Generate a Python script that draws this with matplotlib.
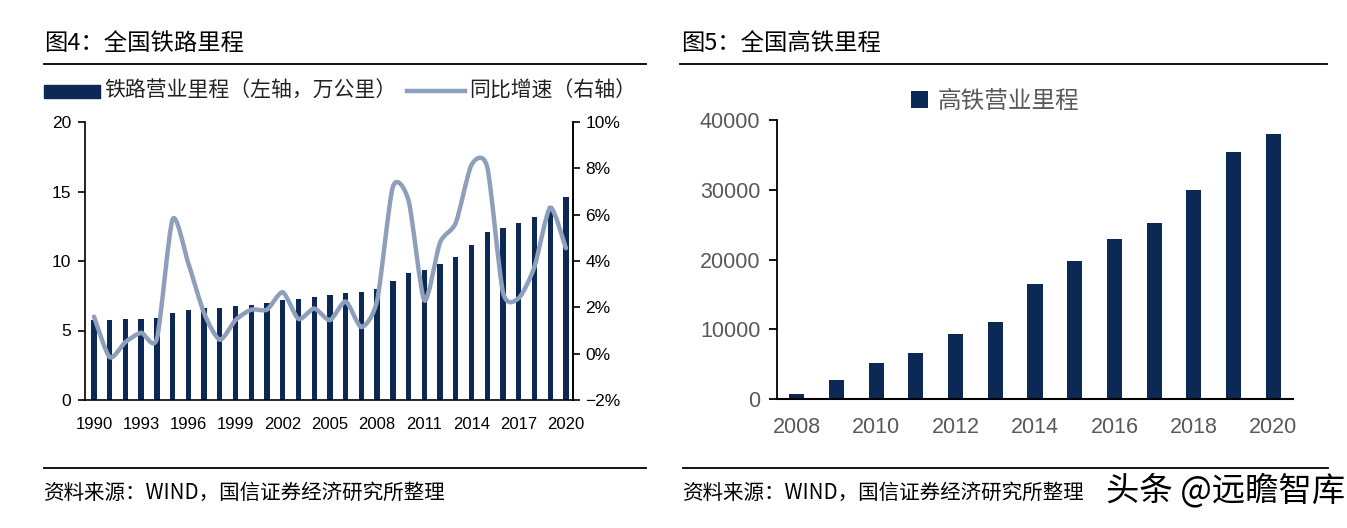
import numpy as np
import matplotlib
matplotlib.use("Agg")
import matplotlib.pyplot as plt
from matplotlib.path import Path
from matplotlib.patches import PathPatch, Rectangle
from matplotlib.lines import Line2D

plt.rcParams['font.family'] = ['Noto Sans CJK SC', 'DejaVu Sans']

# ---- data: figure 4 (national railway mileage) ----
rail_years = list(range(1990, 2021))
rail_km = [5.79, 5.78, 5.81, 5.86, 5.90, 6.24, 6.49, 6.60, 6.64, 6.74,
           6.87, 7.01, 7.19, 7.30, 7.44, 7.54, 7.71, 7.80, 7.97, 8.55,
           9.12, 9.32, 9.76, 10.31, 11.18, 12.10, 12.40, 12.70, 13.17, 13.99,
           14.63]
rail_yoy = [1.6, -0.15, 0.5, 0.9, 0.65, 5.8, 3.9, 1.75, 0.6, 1.45,
            1.9, 1.9, 2.65, 1.5, 1.95, 1.45, 2.25, 1.15, 2.3, 7.2,
            6.6, 2.3, 4.8, 5.65, 8.15, 8.05, 2.65, 2.4, 3.75, 6.3,
            4.55]
rail_xlabels = [str(y) if (y - 1990) % 3 == 0 else '' for y in rail_years]

# ---- data: figure 5 (high-speed rail mileage) ----
hsr_years = list(range(2008, 2021))
hsr_km = [672, 2699, 5133, 6601, 9356, 11028, 16456, 19838, 22980, 25164,
          29904, 35388, 37929]
hsr_xlabels = [str(y) if y % 2 == 0 else '' for y in hsr_years]

bar_color = '#0C2955'
line_color = '#8E9FBC'
grey_text = '#595959'

W, H = 1347, 528
fig = plt.figure(figsize=(W / 100, H / 100), dpi=100)


def fx(px):
    return px / W


def fy(py):
    return 1 - py / H


def smooth_path(xs, ys, k=0.12):
    # cubic bezier through every point, like Excel's smoothed line
    xs = np.asarray(xs, float)
    ys = np.asarray(ys, float)
    verts = [(xs[0], ys[0])]
    codes = [Path.MOVETO]
    n = len(xs)
    for i in range(n - 1):
        i0 = max(i - 1, 0)
        i3 = min(i + 2, n - 1)
        c1 = (xs[i] + (xs[i + 1] - xs[i0]) * k, ys[i] + (ys[i + 1] - ys[i0]) * k)
        c2 = (xs[i + 1] - (xs[i3] - xs[i]) * k, ys[i + 1] - (ys[i3] - ys[i]) * k)
        verts += [c1, c2, (xs[i + 1], ys[i + 1])]
        codes += [Path.CURVE4] * 3
    return Path(verts, codes)


# ================= left chart =================
fig.text(fx(44), fy(43), '图4：全国铁路里程', fontsize=16.8, va='center', ha='left', color='black')
fig.add_artist(Line2D([fx(44), fx(646)], [fy(64), fy(64)], color='black', lw=1.3))

ax = fig.add_axes([fx(85), fy(400), fx(573 - 85), (400 - 122) / H])
x = np.arange(len(rail_years))
ax.bar(x, rail_km, width=0.34, color=bar_color, zorder=2)
ax.set_xlim(-0.57, len(x) - 0.55)
ax.set_ylim(0, 20)
ax.set_yticks([0, 5, 10, 15, 20])
ax.set_xticks(x)
ax.set_xticklabels(rail_xlabels)
ax.spines['top'].set_visible(False)
for s in ['left', 'bottom', 'right']:
    ax.spines[s].set_linewidth(1.2)
ax.tick_params(axis='x', length=0, pad=12, labelsize=12)
ax.tick_params(axis='y', length=5, width=1.2, pad=5, labelsize=12.5)
for lab in ax.get_xticklabels() + ax.get_yticklabels():
    lab.set_family(['Liberation Sans', 'DejaVu Sans'])

ax2 = ax.twinx()
ax2.set_ylim(-2, 10)
ax2.set_yticks(range(-2, 11, 2))
ax2.set_yticklabels([f'{v}%'.replace('-', '\u2212') for v in range(-2, 11, 2)])
for s in ['top', 'left', 'bottom']:
    ax2.spines[s].set_visible(False)
ax2.spines['right'].set_linewidth(1.2)
ax2.tick_params(axis='y', length=5, width=1.2, pad=4, labelsize=12.5)
for lab in ax2.get_yticklabels():
    lab.set_family(['Liberation Sans', 'DejaVu Sans'])
ax2.add_patch(PathPatch(smooth_path(x, rail_yoy), facecolor='none', edgecolor=line_color,
                        lw=3.2, capstyle='round', joinstyle='round', zorder=3))

# legend row
fig.add_artist(Rectangle((fx(44), fy(98)), fx(100 - 44), (98 - 85) / H, color=bar_color))
fig.text(fx(104), fy(91), '铁路营业里程（左轴，万公里）', fontsize=15, va='center', ha='left', color='#222222')
fig.add_artist(Line2D([fx(407), fx(465)], [fy(91), fy(91)], color=line_color, lw=3.2))
fig.text(fx(469), fy(91), '同比增速（右轴）', fontsize=15, va='center', ha='left', color='#222222')

fig.add_artist(Line2D([fx(44), fx(646)], [fy(468), fy(468)], color='black', lw=1.3))
fig.text(fx(44), fy(493), '资料来源：WIND，国信证券经济研究所整理', fontsize=14.8, va='center', ha='left')

# ================= right chart =================
fig.text(fx(681), fy(43), '图5：全国高铁里程', fontsize=16.8, va='center', ha='left', color='black')
fig.add_artist(Line2D([fx(680), fx(1327)], [fy(64), fy(64)], color='black', lw=1.3))

bx = fig.add_axes([fx(777), fy(399), fx(1293 - 777), (399 - 120) / H])
xh = np.arange(len(hsr_years))
bx.bar(xh, hsr_km, width=0.38, color=bar_color, label='高铁营业里程')
bx.set_xlim(-0.5, len(xh) - 0.5)
bx.set_ylim(0, 40000)
bx.set_yticks(range(0, 40001, 10000))
bx.set_xticks(xh)
bx.set_xticklabels(hsr_xlabels)
for s in ['top', 'right']:
    bx.spines[s].set_visible(False)
bx.spines['left'].set_linewidth(1.3)
bx.spines['bottom'].set_linewidth(1.5)
bx.tick_params(axis='x', length=0, pad=13, labelsize=15.5, labelcolor=grey_text)
bx.tick_params(axis='y', length=6, width=1.3, pad=6, labelsize=15.5, labelcolor=grey_text)
for lab in bx.get_xticklabels() + bx.get_yticklabels():
    lab.set_family(['Liberation Sans Narrow', 'Liberation Sans', 'DejaVu Sans'])

leg = bx.legend(loc='center', bbox_to_anchor=(fx(995), fy(101)), bbox_transform=fig.transFigure,
                frameon=False, fontsize=17, handlelength=0.7, handleheight=0.7, handletextpad=0.4)
for t in leg.get_texts():
    t.set_color(grey_text)

fig.add_artist(Line2D([fx(683), fx(1328)], [fy(468), fy(468)], color='black', lw=1.3))
fig.text(fx(683), fy(493), '资料来源：WIND，国信证券经济研究所整理', fontsize=14.8, va='center', ha='left')
fig.text(fx(1345), fy(491), '头条 @远瞻智库', fontsize=24, va='center', ha='right', color='black')

fig.savefig('out.png', dpi=100)
